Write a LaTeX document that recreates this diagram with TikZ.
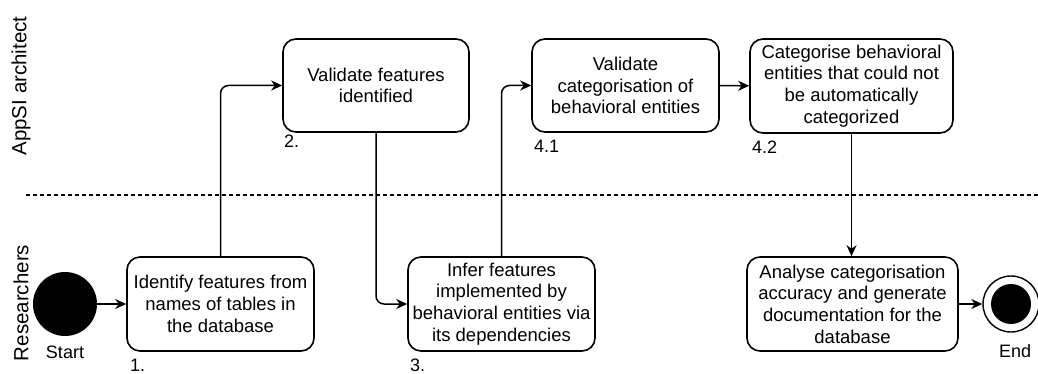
\documentclass[tikz,border=0pt]{standalone}
\usepackage{fontspec}
\setmainfont{Liberation Sans}
\usetikzlibrary{arrows.meta}
\begin{document}
\begin{tikzpicture}[x=1pt,y=-1pt,
  stepbox/.style={draw, line width=1.6pt, rounded corners=13pt, align=center,
    inner sep=0pt, font=\fontsize{18.5}{21.7}\selectfont},
  lanelabel/.style={rotate=90, font=\fontsize{20.5}{24}\selectfont, inner sep=0pt},
  tag/.style={font=\fontsize{18}{21}\selectfont, inner sep=0pt},
  arr/.style={line width=1.5pt, -{Stealth[length=11pt,width=10pt,inset=3.5pt]}},
  elbow/.style={arr, rounded corners=8pt},
  lanesep/.style={line width=1.2pt, dash pattern=on 4pt off 3pt}]
\useasboundingbox (0,0) rectangle (1038,374);

% swimlane titles and separator
\node[lanelabel] (laneA) at (21,86) {AppSI architect};
\node[lanelabel] (laneR) at (21,303) {Researchers};
\coordinate (sepL) at (26,195);
\coordinate (sepR) at (1038,195);
\draw[lanesep] (sepL) -- (sepR);

% start and end states
\node[circle, fill=black, minimum size=64pt, inner sep=0pt] (start) at (65,304) {};
\node[tag] (startlbl) at (65,352) {Start};
\node[circle, draw, line width=1.4pt, fill=white, minimum size=56pt, inner sep=0pt] (endc) at (1011,304) {};
\node[circle, fill=black, minimum size=40pt, inner sep=0pt] (endin) at (endc) {};
\node[tag] (endlbl) at (1015,351) {End};

% activities
\node[stepbox, minimum width=187pt, minimum height=94pt] (b1) at (220.5,304)
  {Identify features from\\names of tables in\\the database};
\node[stepbox, minimum width=186pt, minimum height=93pt] (b2) at (376,85.5)
  {Validate features\\identified};
\node[stepbox, minimum width=187pt, minimum height=94pt] (b3) at (501.5,304)
  {Infer features\\implemented by\\behavioral entities via\\its dependencies};
\node[stepbox, minimum width=187pt, minimum height=93pt] (b41) at (625.5,85.5)
  {Validate\\categorisation of\\behavioral entities};
\node[stepbox, minimum width=203pt, minimum height=94pt] (b42) at (851.5,86)
  {Categorise behavioral\\entities that could not\\be automatically\\categorized};
\node[stepbox, minimum width=211pt, minimum height=94pt] (b5) at (852.5,304)
  {Analyse categorisation\\accuracy and generate\\documentation for the\\database};

% step numbers
\node[tag, anchor=west] (n1) at (130,365) {1.};
\node[tag, anchor=west] (n2) at (284,141) {2.};
\node[tag, anchor=west] (n3) at (410,365) {3.};
\node[tag, anchor=west] (n41) at (534,146) {4.1};
\node[tag, anchor=west] (n42) at (752,147) {4.2};

% flow
\draw[arr] (start) -- (b1);
\draw[elbow] (b1.north) |- (b2.west);
\draw[elbow] (b2.south) |- (b3.west);
\draw[elbow] (b3.north) |- (b41.west);
\draw[arr] (b41) -- (b42);
\draw[arr] (b42.south) -- (b42.south |- b5.north);
\draw[arr] (b5) -- (endc);
\end{tikzpicture}
\end{document}
